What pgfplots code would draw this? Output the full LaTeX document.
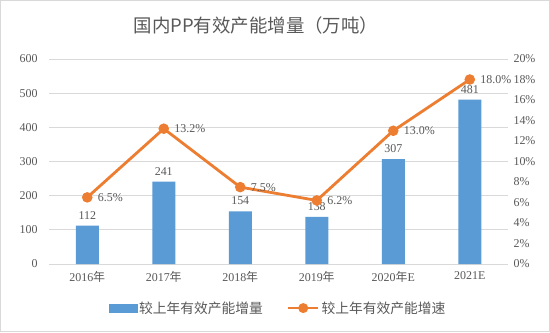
\documentclass[border=0pt]{standalone}
\usepackage{fontspec}
\setmainfont{Liberation Serif}
\newfontfamily\cjk{Noto Sans CJK SC}
\usepackage{pgfplots}
\pgfplotsset{compat=1.18}
\definecolor{barblue}{HTML}{5B9BD5}
\definecolor{lineorange}{HTML}{ED7D31}
\definecolor{txt}{HTML}{595959}
\definecolor{gridc}{HTML}{D9D9D9}
\begin{document}
\begin{tikzpicture}[x=1bp,y=1bp]
\draw[gridc, line width=1bp, fill=white] (0.5,0.5) rectangle (549.5,331.5);
\node[txt, font=\cjk\fontsize{18.5}{22}\selectfont] at (256,307) {国内PP有效产能增量（万吨）};
\begin{axis}[
  at={(49bp,68bp)}, anchor=south west,
  width=459bp, height=205bp, scale only axis,
  xmin=-0.5, xmax=5.5, ymin=0, ymax=600,
  ytick={0,100,...,600},
  xtick={0,...,5},
  xticklabels={{2016\cjk 年},{2017\cjk 年},{2018\cjk 年},{2019\cjk 年},{2020\cjk 年\rmfamily E},{2021E}},
  axis line style={draw=none},
  major tick length=0pt,
  ymajorgrids, grid style={gridc, line width=0.8bp},
  ticklabel style={font=\fontsize{12}{14}\selectfont, text=txt},
  yticklabel style={xshift=-8bp},
  xticklabel style={yshift=-4bp},
  /pgf/number format/assume math mode=true,
  clip=false,
]
\addplot[ybar, bar width=23bp, fill=barblue, draw=none,
  nodes near coords, nodes near coords style={font=\fontsize{12}{14}\selectfont, text=txt, yshift=3bp}]
  coordinates {(0,112) (1,241) (2,154) (3,138) (4,307) (5,481)};
\end{axis}
\begin{axis}[
  at={(49bp,68bp)}, anchor=south west,
  width=459bp, height=205bp, scale only axis,
  xmin=-0.5, xmax=5.5, ymin=0, ymax=20,
  ytick={0,2,...,20},
  yticklabel={\pgfmathprintnumber{\tick}\%},
  xtick=\empty,
  axis y line*=right, axis x line=none,
  axis line style={draw=none},
  major tick length=0pt,
  ticklabel style={font=\fontsize{12}{14}\selectfont, text=txt},
  yticklabel style={xshift=2bp},
  /pgf/number format/assume math mode=true,
  clip=false,
  legend style={at={(0.499,-0.215)}, anchor=center, draw=none, fill=none,
    legend columns=2, font=\cjk\fontsize{13.8}{16}\selectfont, text=txt,
    /tikz/every even column/.append style={column sep=22bp}},
]
\addlegendimage{legend image code/.code={\fill[barblue] (0bp,-4bp) rectangle (28bp,4bp);}}
\addlegendentry{较上年有效产能增量}
\addplot[lineorange, line width=2.8bp, mark=*, mark size=3.8bp,
  mark options={fill=lineorange, draw=lineorange},
  legend image code/.code={\draw[lineorange, line width=2.8bp] (0bp,0bp) -- (30bp,0bp); \fill[lineorange] (15bp,0bp) circle (3.5bp);},
  nodes near coords={\pgfmathprintnumber[fixed,fixed zerofill,precision=1]{\pgfplotspointmeta}\%},
  nodes near coords style={anchor=west, xshift=6bp, yshift=0bp, font=\fontsize{12}{14}\selectfont, text=txt}]
  coordinates {(0,6.5) (1,13.2) (2,7.5) (3,6.2) (4,13.0) (5,18.0)};
\addlegendentry{较上年有效产能增速}
\end{axis}
\end{tikzpicture}
\end{document}
